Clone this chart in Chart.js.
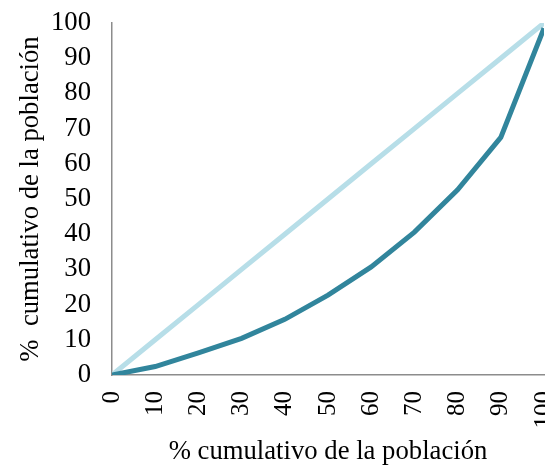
<!DOCTYPE html>
<html>
<head>
<meta charset="utf-8">
<script src="https://cdn.jsdelivr.net/npm/chart.js@4/dist/chart.umd.min.js"></script>
<style>
body{margin:0;background:#fff;overflow:hidden}
</style>
</head>
<body>
<canvas id="lorenz" width="545" height="468"></canvas>
<script>

// % cumulativo de la población (eje x)
const poblacion = [0, 10, 20, 30, 40, 50, 60, 70, 80, 90, 100];
// curva de Lorenz
const curva = [0, 2.4, 6.3, 10.4, 15.8, 22.7, 30.7, 40.6, 52.6, 67.5, 98.5];
// línea de igualdad
const igualdad = [0, 10, 20, 30, 40, 50, 60, 70, 80, 90, 100];

const serif = "'Liberation Serif', 'Times New Roman', serif";

function toPoints(ys){
return poblacion.map((x, i) => ({x: x, y: ys[i]}));
}

new Chart(document.getElementById("lorenz"), {
type: "line",
data: {
datasets: [
{
data: toPoints(curva),
borderColor: "#31859C",
borderWidth: 5,
pointRadius: 0,
tension: 0
},
{
data: toPoints(igualdad),
borderColor: "#B7DEE8",
borderWidth: 5,
pointRadius: 0,
tension: 0
}
]
},
options: {
responsive: false,
animation: false,
layout: {padding: {top: 23, right: 1, left: 0, bottom: 0}},
plugins: {legend: {display: false}, tooltip: {enabled: false}},
scales: {
x: {
type: "linear",
min: 0,
max: 100,
grid: {display: false, drawTicks: true, tickLength: 6, tickColor: "#8c8c8c", tickWidth: 1.5},
border: {color: "#8c8c8c", width: 1.5},
ticks: {
stepSize: 10,
minRotation: 90,
maxRotation: 90,
padding: 10,
color: "#000",
font: {family: serif, size: 25}
},
title: {
display: true,
text: "% cumulativo de la población",
color: "#000",
font: {family: serif, size: 26.7},
padding: {top: 0, bottom: 0}
},
afterFit: function(scale){
scale.height = 93;
scale.paddingLeft = 0;
scale.paddingRight = 0;
}
},
y: {
min: 0,
max: 100,
grid: {display: false, drawTicks: true, tickLength: 7, tickColor: "#8c8c8c", tickWidth: 1.5},
border: {color: "#8c8c8c", width: 1.5},
ticks: {
stepSize: 10,
padding: 14,
color: "#000",
font: {family: serif, size: 26.7}
},
title: {
display: true,
text: "%  cumulativo de la población",
color: "#000",
font: {family: serif, size: 26.7},
padding: {top: 15, bottom: 0}
},
afterFit: function(scale){
scale.width = 112;
scale.paddingTop = 0;
scale.paddingBottom = 0;
}
}
}
}
});

</script>
</body>
</html>
